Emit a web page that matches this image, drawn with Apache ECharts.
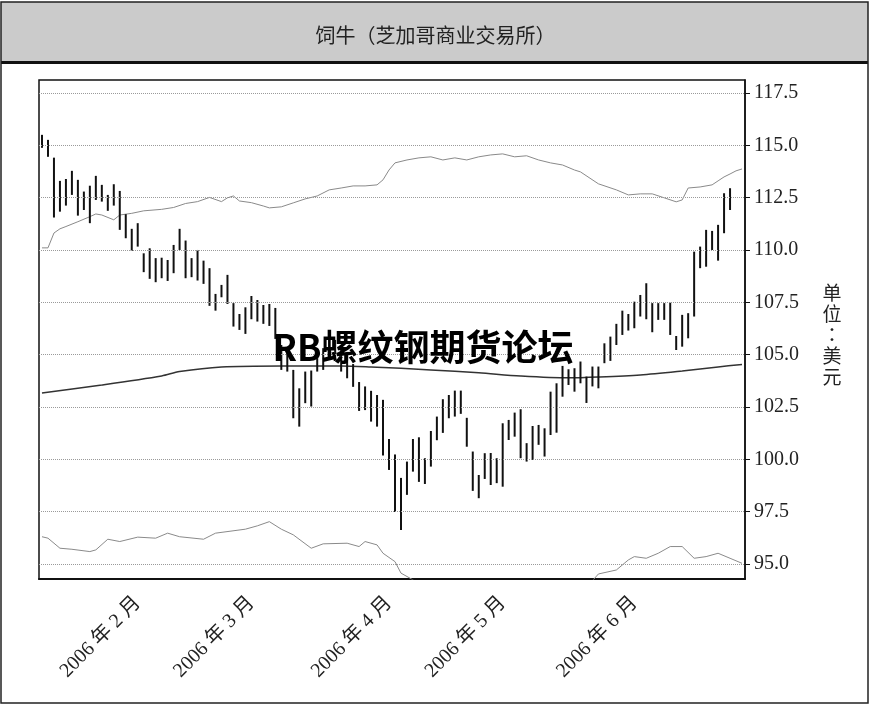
<!DOCTYPE html>
<html><head><meta charset="utf-8">
<script src="https://cdn.jsdelivr.net/npm/echarts@6/dist/echarts.min.js"></script>
<style>html,body{margin:0;padding:0;background:#fff}#c{width:871px;height:706px}</style>
</head><body><div id="c"></div>
<script>
// trading days per month (2006)
const janDays=[9,10,11,12,13,17,18,19,20,23,24,25,26,27,30,31];
const febDays=[1,2,3,6,7,8,9,10,13,14,15,16,17,21,22,23,24,27,28];
const marDays=[1,2,3,6,7,8,9,10,13,14,15,16,17,20,21,22,23,24,27,28,29,30,31];
const aprDays=[3,4,5,6,7,10,11,12,13,17,18,19,20,21,24,25,26,27,28];
const mayDays=[1,2,3,4,5,8,9,10,11,12,15,16,17,18,19,22,23,24,25,26,30,31];
const junDays=[1,2,5,6,7,8,9,12,13,14,15,16,19,20,21,22,23,26,27];
const monthStarts=['2006-02-01','2006-03-01','2006-04-03','2006-05-01','2006-06-01'];
const yTicks=[95,97.5,100,102.5,105,107.5,110,112.5,115,117.5];

const highs=[115.50,115.26,114.41,113.30,113.39,113.78,113.35,112.79,113.07,113.54,113.11,112.63,113.14,112.82,111.71,111.01,
111.28,109.84,110.08,109.61,109.63,109.52,110.24,111.01,110.45,109.61,110.00,109.49,109.13,107.90,108.33,108.81,107.46,106.94,107.26,
107.80,107.61,107.37,107.42,107.23,105.46,105.22,104.27,103.39,104.19,104.24,104.83,105.31,105.89,105.70,105.22,105.13,104.55,103.69,103.48,103.27,103.07,102.84,
100.97,100.23,99.11,99.89,100.97,101.05,100.05,101.35,102.04,102.87,103.07,103.28,103.28,101.98,100.37,99.25,100.29,100.30,100.05,
101.72,101.88,102.23,102.39,100.77,101.59,101.64,101.48,103.23,103.63,104.46,104.30,104.35,104.67,103.95,104.43,104.43,105.54,105.86,106.47,107.10,106.94,
107.53,107.85,108.41,107.46,107.46,107.46,107.48,105.89,106.90,106.98,109.92,110.16,110.96,110.91,111.20,112.71,112.95];
const lows=[114.88,114.45,111.55,111.83,112.12,112.63,111.64,111.91,111.28,112.39,112.31,111.87,112.12,110.96,110.56,109.95,
110.16,108.94,108.62,108.46,108.65,108.52,108.89,110.00,108.65,108.70,108.54,108.38,107.33,107.10,107.74,107.42,106.34,106.18,105.99,
106.69,106.58,106.47,106.37,105.75,104.27,104.19,101.96,101.56,102.68,102.52,104.19,104.27,104.84,104.75,104.19,103.87,103.46,102.31,102.35,101.80,101.56,100.18,
99.49,97.48,96.62,98.30,99.41,98.92,98.82,99.65,100.91,101.26,101.96,102.04,102.17,100.60,98.49,98.14,99.06,98.77,98.86,
98.69,100.92,101.08,100.05,99.89,99.97,100.69,100.13,101.16,101.27,102.99,103.55,103.23,103.63,102.69,103.48,103.39,104.59,104.70,105.46,105.94,106.15,
106.26,106.82,106.69,106.07,106.66,106.66,105.94,105.22,105.38,105.78,106.82,109.13,109.20,110.00,109.49,110.80,111.91];

const maLine=[[0,103.17],[10,103.55],[20,103.98],[23,104.19],[30,104.41],[40,104.46],[50,104.46],[55,104.41],[65,104.27],[73,104.13],[80,103.98],[88,103.89],[93,103.93],[100,104.03],[107,104.22],[113,104.41],[117,104.53]];
const upperBand=[[0,110.10],[1,110.10],[2,110.81],[3,111.01],[4,111.12],[6,111.35],[8,111.59],[9,111.72],[10,111.67],[12,111.44],[13,111.67],[15,111.75],[17,111.87],[20,111.94],[22,112.03],[24,112.22],[26,112.31],[28,112.51],[30,112.31],[31,112.49],[32,112.58],[33,112.34],[35,112.26],[37,112.10],[38,112.01],[40,112.06],[42,112.25],[44,112.44],[46,112.58],[48,112.87],[50,112.96],[52,113.06],[54,113.06],[56,113.11],[57,113.35],[58,113.82],[59,114.16],[61,114.30],[63,114.40],[65,114.45],[67,114.30],[69,114.40],[71,114.30],[73,114.45],[75,114.54],[77,114.59],[79,114.45],[81,114.50],[83,114.30],[85,114.16],[87,114.06],[89,113.82],[90,113.73],[93,113.16],[96,112.87],[98,112.63],[100,112.68],[102,112.68],[104,112.49],[106,112.30],[107,112.39],[108,112.96],[110,113.01],[112,113.11],[113,113.30],[114,113.49],[115,113.63],[116,113.78],[117,113.87]];
const lowerBand=[[0,96.30],[1,96.23],[3,95.75],[5,95.70],[8,95.59],[9,95.67],[11,96.18],[13,96.07],[16,96.28],[19,96.23],[21,96.47],[23,96.30],[27,96.18],[29,96.47],[34,96.66],[36,96.82],[38,97.02],[40,96.66],[42,96.39],[45,95.75],[47,95.96],[51,95.99],[53,95.83],[54,96.07],[56,95.91],[57,95.51],[59,95.11],[60,94.56],[62,94.24],[64,93.8],[67,93.4],[72,93.0],[78,93.0],[84,93.3],[88,93.8],[91,94.0],[92,94.2],[93,94.52],[96,94.71],[98,95.19],[99,95.35],[101,95.27],[103,95.51],[105,95.83],[107,95.83],[109,95.27],[111,95.35],[113,95.51],[115,95.27],[117,95.03]];

const pad=d=>(d<10?'0':'')+d;
const categories=[].concat(
  janDays.map(d=>'2006-01-'+pad(d)),febDays.map(d=>'2006-02-'+pad(d)),marDays.map(d=>'2006-03-'+pad(d)),
  aprDays.map(d=>'2006-04-'+pad(d)),mayDays.map(d=>'2006-05-'+pad(d)),junDays.map(d=>'2006-06-'+pad(d)));
const barData=highs.map((h,i)=>[i,lows[i],h]);

const chart=echarts.init(document.getElementById('c'),null,{renderer:'canvas'});
const serif="'Liberation Serif','Noto Sans CJK SC',serif";
chart.setOption({
  animation:false,
  backgroundColor:'#fff',
  title:{text:'饲牛（芝加哥商业交易所）',left:'center',top:20,
    textStyle:{fontFamily:"'Noto Sans CJK SC'",fontSize:20,fontWeight:'normal',color:'#222'}},
  grid:{left:39,right:126,top:80,bottom:127,show:true,borderColor:'#111',borderWidth:1.5,backgroundColor:'transparent'},
  xAxis:{type:'category',data:categories,boundaryGap:true,
    axisLine:{lineStyle:{color:'#111',width:2}},
    axisTick:{interval:(i,v)=>monthStarts.includes(v),length:7,lineStyle:{color:'#111',width:1.5}},
    axisLabel:{interval:(i,v)=>monthStarts.includes(v),rotate:45,margin:21,
      formatter:v=>'2006 年 '+(+v.slice(5,7))+' 月',fontFamily:serif,fontSize:20,color:'#222'},
    splitLine:{show:false}},
  yAxis:{type:'value',position:'right',min:94.28,max:118.12,
    axisLine:{show:true,lineStyle:{color:'#111',width:1.5}},
    axisTick:{show:true,customValues:yTicks,length:5,lineStyle:{color:'#111'}},
    axisLabel:{customValues:yTicks,formatter:v=>v.toFixed(1),margin:9,fontFamily:serif,fontSize:20,color:'#222'},
    splitLine:{show:false}},
  graphic:[
    {type:'rect',z:-10,shape:{x:1,y:2,width:867,height:59},style:{fill:'#cbcbcb'}},
    {type:'rect',z:-9,shape:{x:1,y:61,width:867,height:3},style:{fill:'#111'}},
    {type:'rect',z:-8,shape:{x:1,y:2,width:867,height:701},style:{fill:'none',stroke:'#222',lineWidth:1.5}},
    {type:'text',z:50,x:832,y:335,style:{text:'单\n位\n：\n美\n元',align:'center',verticalAlign:'middle',
      font:"19px 'Noto Sans CJK TC'",lineHeight:21,fill:'#222'}},
    {type:'text',z:60,x:423,y:347,style:{text:'RB螺纹钢期货论坛',align:'center',verticalAlign:'middle',
      font:"bold 36px 'Noto Sans CJK SC'",fill:'#000'}}
  ],
  series:[
    {type:'line',name:'grid',data:[],z:1,silent:true,
      markLine:{silent:true,symbol:['none','none'],label:{show:false},animation:false,
        lineStyle:{type:'dotted',color:'#9a9a9a',width:1},data:yTicks.map(v=>({yAxis:v}))}},
    {type:'line',name:'upper',data:upperBand,showSymbol:false,symbol:'none',z:2,lineStyle:{color:'#8a8a8a',width:1}},
    {type:'line',name:'lower',data:lowerBand,showSymbol:false,symbol:'none',z:2,lineStyle:{color:'#8a8a8a',width:1}},
    {type:'line',name:'ma',data:maLine,showSymbol:false,symbol:'none',smooth:0.3,z:3,lineStyle:{color:'#333',width:1.5}},
    {type:'custom',name:'bars',data:barData,z:4,encode:{x:0,y:[1,2]},
      renderItem:(params,api)=>{
        const x=api.value(0);
        const p1=api.coord([x,api.value(1)]);
        const p2=api.coord([x,api.value(2)]);
        return {type:'line',shape:{x1:p1[0],y1:p1[1],x2:p2[0],y2:p2[1]},style:{stroke:'#111',lineWidth:2}};
      }}
  ]
});
</script></body></html>
